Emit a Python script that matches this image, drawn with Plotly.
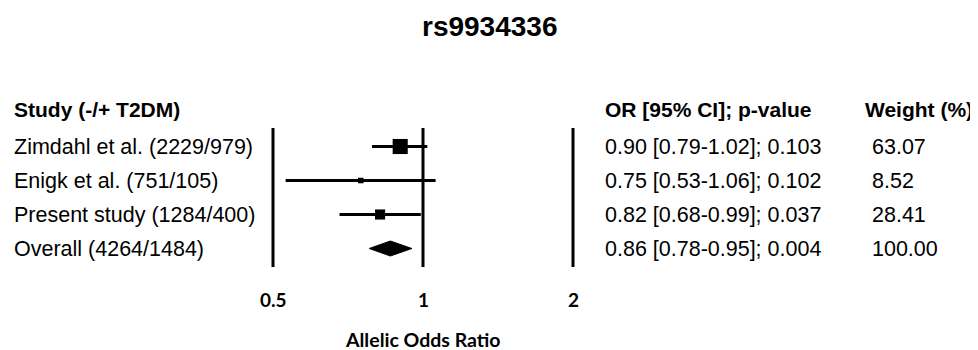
import math
import plotly.graph_objects as go

title = "rs9934336"
studies = ["Zimdahl et al. (2229/979)", "Enigk et al. (751/105)",
           "Present study (1284/400)", "Overall (4264/1484)"]
odds = [0.90, 0.75, 0.82, 0.86]
ci_low = [0.79, 0.53, 0.68, 0.78]
ci_high = [1.02, 1.06, 0.99, 0.95]
p_values = ["0.103", "0.102", "0.037", "0.004"]
weights = [63.07, 8.52, 28.41, 100.00]
tick_values = [0.5, 1, 2]
tick_labels = ["0.5", "1", "2"]
header_study = "Study (-/+ T2DM)"
header_or = "OR [95% CI]; p-value"
header_weight = "Weight (%)"
x_title = "Allelic Odds Ratio"

# the page body adds an 8px margin; lay out in page pixels and shift
OFF = 8
W, H = 978 - OFF, 350 - OFF
px_per_dec = 300 / math.log10(4)
xr0 = math.log10(0.5) - (273 - OFF) / px_per_dec
xr1 = math.log10(2) + (W - (573 - OFF)) / px_per_dec
row0, rowstep = 146.5, 34.0
def ypx(p):
    return (p - row0) / rowstep
ytop = ypx(OFF)
ybot = ypx(350)
def xpaper(p):
    return (p - OFF) / W

fig = go.Figure()
BODY = dict(family="Liberation Sans, Arial", size=21.5, color="black")
BOLD = dict(family="Liberation Sans, Arial", size=21, color="black", weight="bold")

# vertical reference lines
for tv in tick_values:
    fig.add_trace(go.Scatter(x=[tv, tv], y=[ypx(128), ypx(267)], mode="lines",
                             line=dict(color="black", width=3), hoverinfo="skip",
                             showlegend=False))

n = len(studies) - 1
# study CIs and squares
fig.add_trace(go.Scatter(
    x=odds[:n], y=list(range(n)), mode="markers",
    marker=dict(symbol="square", color="black", opacity=1,
                size=[1.9 * math.sqrt(w) for w in weights[:n]],
                line=dict(width=0, color="black")),
    error_x=dict(type="data", symmetric=False,
                 array=[h - o for h, o in zip(ci_high[:n], odds[:n])],
                 arrayminus=[o - l for o, l in zip(odds[:n], ci_low[:n])],
                 color="black", thickness=3, width=0),
    showlegend=False))

# overall diamond
hd = 7.5 / rowstep
fig.add_trace(go.Scatter(
    x=[ci_low[n], odds[n], ci_high[n], odds[n], ci_low[n]],
    y=[n, n - hd, n, n + hd, n], mode="lines", fill="toself",
    fillcolor="black", line=dict(color="black", width=1), showlegend=False))

ann = []
ann.append(dict(text=title, x=xpaper(489), y=ypx(OFF + 0.5), xref="paper", yref="y",
                yanchor="top", showarrow=False,
                font=dict(family="Liberation Sans, Arial", size=28,
                          color="black", weight="bold")))
ann.append(dict(text=header_study, x=xpaper(12), y=ypx(109), xref="paper", yref="y",
                xanchor="left", showarrow=False, font=BOLD))
ann.append(dict(text=header_or, x=xpaper(603), y=ypx(109), xref="paper", yref="y",
                xanchor="left", showarrow=False, font=BOLD))
ann.append(dict(text=header_weight, x=xpaper(863), y=ypx(109), xref="paper", yref="y",
                xanchor="left", showarrow=False, font=BOLD))
for i, s in enumerate(studies):
    ann.append(dict(text=s, x=xpaper(12), y=i, xref="paper", yref="y",
                    xanchor="left", showarrow=False, font=BODY))
    ann.append(dict(text=f"{odds[i]:.2f} [{ci_low[i]:.2f}-{ci_high[i]:.2f}]; {p_values[i]}",
                    x=xpaper(603), y=i, xref="paper", yref="y",
                    xanchor="left", showarrow=False, font=BODY))
    ann.append(dict(text=f"{weights[i]:.2f}", x=xpaper(870), y=i, xref="paper", yref="y",
                    xanchor="left", showarrow=False, font=BODY))
for tv, tl in zip(tick_values, tick_labels):
    ann.append(dict(text=tl, x=math.log10(tv), y=ypx(299), xref="x", yref="y",
                    showarrow=False, font=dict(family="Lato", size=19, color="black",
                                               weight="bold")))
ann.append(dict(text=x_title, x=math.log10(1), y=ypx(339), xref="x", yref="y",
                showarrow=False, font=dict(family="Lato", size=19.5, color="black",
                                           weight="bold")))

fig.update_layout(
    width=W, height=H, margin=dict(l=0, r=0, t=0, b=0),
    paper_bgcolor="white", plot_bgcolor="white",
    xaxis=dict(type="log", range=[xr0, xr1], visible=False, domain=[0, 1]),
    yaxis=dict(range=[ybot, ytop], visible=False, domain=[0, 1]),
    annotations=ann, showlegend=False)

fig.write_html("out.html")
